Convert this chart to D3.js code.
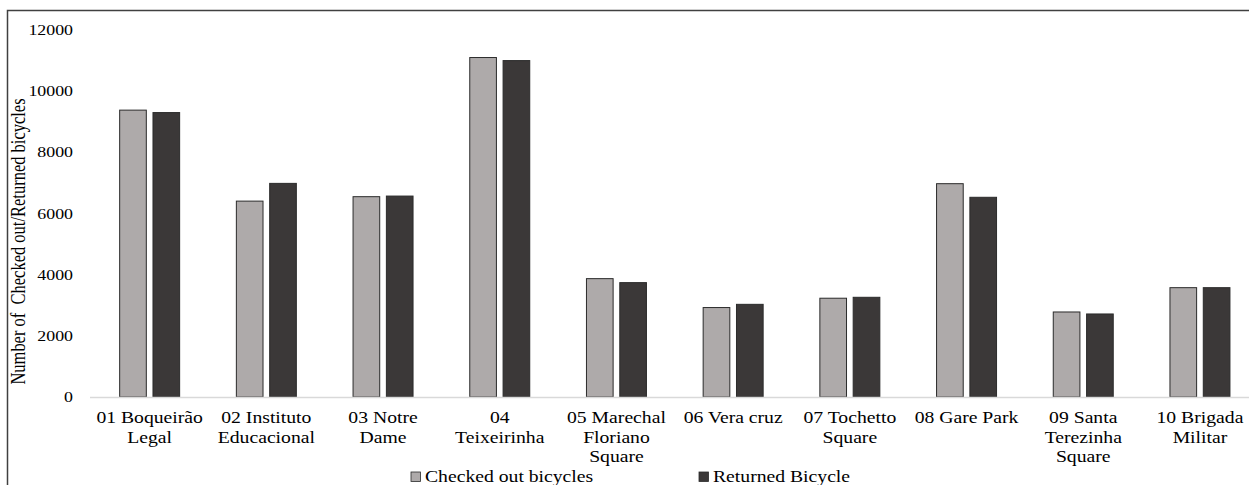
<!DOCTYPE html>
<html>
<head>
<meta charset="utf-8">
<script src="https://cdn.jsdelivr.net/npm/d3@7"></script>
<style>
  html, body { margin: 0; padding: 0; background: #fff; }
  svg { display: block; }
  svg text { font-family: "Liberation Serif", "Times New Roman", Times, serif !important; fill: #000; }
</style>
</head>
<body>
<svg id="chart" width="1249" height="485" font-family="Liberation Serif, serif"></svg>
<script>
// ---- data ----
const categories = [
  "01 Boqueirão Legal", "02 Instituto Educacional", "03 Notre Dame", "04 Teixeirinha",
  "05 Marechal Floriano Square", "06 Vera cruz", "07 Tochetto Square", "08 Gare Park",
  "09 Santa Terezinha Square", "10 Brigada Militar"
];
const categoryLines = [
  ["01 Boqueirão", "Legal"], ["02 Instituto", "Educacional"], ["03 Notre", "Dame"],
  ["04", "Teixeirinha"], ["05 Marechal", "Floriano", "Square"], ["06 Vera cruz"],
  ["07 Tochetto", "Square"], ["08 Gare Park"], ["09 Santa", "Terezinha", "Square"],
  ["10 Brigada", "Militar"]
];
const seriesNames = ["Checked out bicycles", "Returned Bicycle"];
const checkedOut = [9380, 6405, 6550, 11100, 3870, 2925, 3230, 6975, 2780, 3575];
const returned   = [9300, 6985, 6570, 11000, 3740, 3030, 3260, 6530, 2715, 3575];
const yTicks = [0, 2000, 4000, 6000, 8000, 10000, 12000];
const yTitle = "Number of  Checked out/Returned bicycles";

// ---- styles ----
const colors = ["#AEAAAA", "#3B3838"];
const SX = 1.23; // horizontal text stretch seen in the reference
const FONT = '"Liberation Serif", "Times New Roman", serif';

const svg = d3.select("#chart");

// frame (cropped on right and bottom)
svg.append("path")
  .attr("d", "M7.5,485 L7.5,10.5 L1249,10.5")
  .attr("fill", "none").attr("stroke", "#404040").attr("stroke-width", 1.5);

const plotLeft = 91.3, plotRight = 91.3 + 116.7 * 10;
const x = d3.scaleBand().domain(categories).range([plotLeft, plotRight])
  .paddingInner(0.486).paddingOuter(0.243);
const xs = d3.scaleBand().domain(seriesNames).range([0, x.bandwidth()]).paddingInner(0.2);
const y = d3.scaleLinear().domain([0, 12000]).range([397, 30]);

// y axis (labels only)
const yAxis = svg.append("g").attr("transform", "translate(90,0)")
  .call(d3.axisLeft(y).tickValues(yTicks).tickSize(0).tickFormat(d3.format("d")));
yAxis.attr("font-family", FONT);
yAxis.select(".domain").remove();
yAxis.selectAll("text")
  .attr("x", -17 / SX)
  .attr("transform", `scale(${SX},1)`)
  .style("font-size", "14.5px")
  .attr("fill", "#000");

// bars
const rows = categories.map((c, i) => ({ cat: c, vals: [checkedOut[i], returned[i]] }));
const groups = svg.append("g").selectAll("g").data(rows).join("g")
  .attr("transform", d => `translate(${x(d.cat)},0)`);
groups.selectAll("rect")
  .data(d => d.vals.map((v, k) => ({ name: seriesNames[k], v, k })))
  .join("rect")
  .attr("x", d => xs(d.name))
  .attr("width", xs.bandwidth())
  .attr("y", d => y(d.v))
  .attr("height", d => y(0) - y(d.v))
  .attr("fill", d => colors[d.k])
  .attr("stroke", "#2b2b2b")
  .attr("stroke-width", 1);

// x axis baseline
svg.append("line")
  .attr("x1", 90).attr("x2", 1249).attr("y1", y(0) + 0.5).attr("y2", y(0) + 0.5)
  .attr("stroke", "#d9d9d9").attr("stroke-width", 1.5);

// category labels
categoryLines.forEach((lines, i) => {
  const cx = x(categories[i]) + x.bandwidth() / 2;
  const t = svg.append("text")
    .attr("transform", `translate(${cx},0) scale(${SX},1)`)
    .attr("text-anchor", "middle")
    .style("font-size", "16px");
  lines.forEach((ln, j) => {
    t.append("tspan").attr("x", 0).attr("y", 423.5 + j * 19.3).text(ln);
  });
});

// y title
svg.append("text")
  .attr("transform", `translate(18,${241.5}) scale(${SX},1) rotate(-90)`)
  .attr("text-anchor", "middle")
  .attr("dy", "0.35em")
  .style("font-size", "16.5px")
  .style("white-space", "pre")
  .text(yTitle);

// legend
const legendX = [411, 699];
seriesNames.forEach((name, k) => {
  svg.append("rect")
    .attr("x", legendX[k]).attr("y", 472).attr("width", 9.5).attr("height", 9.5)
    .attr("fill", colors[k]).attr("stroke", "#2b2b2b").attr("stroke-width", 0.8);
  svg.append("text")
    .attr("transform", `translate(${legendX[k] + 14},482) scale(${SX},1)`)
    .style("font-size", "16px")
    .text(name);
});
</script>
</body>
</html>
